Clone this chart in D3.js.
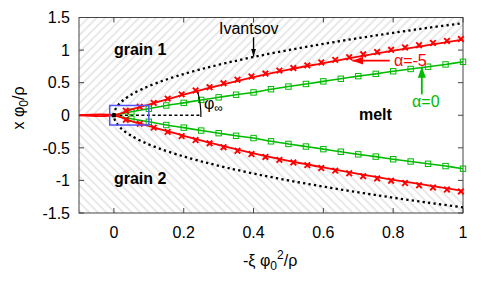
<!DOCTYPE html>
<html>
<head>
<meta charset="utf-8">
<script src="https://d3js.org/d3.v7.min.js"></script>
<style>
  body { margin: 0; background: #fff; }
  text { font-family: "Liberation Sans", Arial, sans-serif; font-size: 16px; fill: #000; }
</style>
</head>
<body>
<svg id="chart" width="491" height="294"></svg>
<script>
  // values
  const xTicks = [0, 0.2, 0.4, 0.6, 0.8, 1];
  const yTicks = [-1.5, -1, -0.5, 0, 0.5, 1, 1.5];

  const ivantsovX = [0, 0.005, 0.02, 0.045, 0.08, 0.125, 0.18, 0.245, 0.32, 0.405, 0.5, 0.6, 0.7, 0.8, 0.9, 1.0];
  const ivantsovY = [0, 0.1, 0.2, 0.3, 0.4, 0.5, 0.6, 0.7, 0.8, 0.9, 1.0, 1.095, 1.183, 1.265, 1.342, 1.414];

  const redLineX = [-0.1, 0, 0.05, 0.1, 0.15, 0.2, 0.3, 0.4, 0.5, 0.6, 0.7, 0.8, 0.9, 1.0];
  const redLineY = [0, 0, 0.09, 0.165, 0.24, 0.315, 0.455, 0.585, 0.70, 0.80, 0.90, 0.99, 1.075, 1.16];

  const redMarkX = [0.034, 0.074, 0.114, 0.154, 0.194, 0.234, 0.274, 0.314, 0.354, 0.394, 0.434, 0.474, 0.514,
                    0.554, 0.594, 0.634, 0.674, 0.714, 0.754, 0.794, 0.834, 0.874, 0.914, 0.954, 0.994];
  const redMarkY = [0.07, 0.13, 0.19, 0.255, 0.32, 0.38, 0.43, 0.49, 0.545, 0.595, 0.64, 0.685, 0.725,
                    0.765, 0.81, 0.85, 0.89, 0.935, 0.97, 1.005, 1.04, 1.075, 1.11, 1.14, 1.17];

  const greenX = [0, 0.05, 0.1, 0.15, 0.2, 0.25, 0.3, 0.35, 0.4, 0.45, 0.5, 0.55, 0.6, 0.65, 0.7, 0.75, 0.8, 0.85, 0.9, 0.95, 1.0];
  const greenY = [0, 0.055, 0.10, 0.15, 0.19, 0.235, 0.275, 0.315, 0.35, 0.40, 0.44, 0.48, 0.52, 0.56, 0.60, 0.635, 0.675, 0.71, 0.745, 0.78, 0.82];

  const svg = d3.select("#chart");
  const x = d3.scaleLinear().domain([-0.1, 1]).range([79, 463]);
  const y = d3.scaleLinear().domain([-1.5, 1.5]).range([213, 17.5]);

  const red = "#ff0000", green = "#00bb00", frame = "#444";

  const defs = svg.append("defs");
  function hatch(id, angle) {
    defs.append("pattern")
        .attr("id", id)
        .attr("patternUnits", "userSpaceOnUse")
        .attr("width", 6).attr("height", 6)
        .attr("patternTransform", `rotate(${angle})`)
      .append("line")
        .attr("x1", 3).attr("y1", 0).attr("x2", 3).attr("y2", 6)
        .attr("stroke", "#c6c6c6").attr("stroke-width", 0.8);
  }
  hatch("hatchUp", 45);
  hatch("hatchDown", -45);

  function arrowHead(id, color, len, wid) {
    defs.append("marker")
        .attr("id", id)
        .attr("markerUnits", "userSpaceOnUse")
        .attr("viewBox", `0 ${-wid / 2} ${len} ${wid}`)
        .attr("refX", len).attr("refY", 0)
        .attr("markerWidth", len).attr("markerHeight", wid)
        .attr("orient", "auto")
      .append("path")
        .attr("d", `M0,${-wid / 2} L${len},0 L0,${wid / 2} Z`)
        .attr("fill", color);
  }
  arrowHead("headBlack", "#000", 8, 5);
  arrowHead("headRed", red, 11, 8);
  arrowHead("headGreen", green, 11, 8);

  // hatched grains outside the red boundary
  const redPts = redLineX.map((v, i) => [v, redLineY[i]]);
  svg.append("path")
      .attr("d", d3.area().x(d => x(d[0])).y0(d => y(d[1])).y1(y(1.5))(redPts))
      .attr("fill", "url(#hatchUp)");
  svg.append("path")
      .attr("d", d3.area().x(d => x(d[0])).y0(d => y(-d[1])).y1(y(-1.5))(redPts))
      .attr("fill", "url(#hatchDown)");

  // frame + inward ticks
  svg.append("rect")
      .attr("x", x(-0.1)).attr("y", y(1.5))
      .attr("width", x(1) - x(-0.1)).attr("height", y(-1.5) - y(1.5))
      .attr("fill", "none").attr("stroke", frame).attr("stroke-width", 1);
  const tl = 5;
  xTicks.forEach(t => {
    svg.append("line").attr("x1", x(t)).attr("x2", x(t)).attr("y1", y(-1.5)).attr("y2", y(-1.5) - tl)
        .attr("stroke", frame);
    svg.append("line").attr("x1", x(t)).attr("x2", x(t)).attr("y1", y(1.5)).attr("y2", y(1.5) + tl)
        .attr("stroke", frame);
    svg.append("text").attr("x", x(t)).attr("y", 237.5).attr("text-anchor", "middle").text(t);
  });
  yTicks.forEach(t => {
    svg.append("line").attr("x1", x(-0.1)).attr("x2", x(-0.1) + tl).attr("y1", y(t)).attr("y2", y(t))
        .attr("stroke", frame);
    svg.append("line").attr("x1", x(1)).attr("x2", x(1) - tl).attr("y1", y(t)).attr("y2", y(t))
        .attr("stroke", frame);
    svg.append("text").attr("x", 70).attr("y", y(t) + 5.7).attr("text-anchor", "end").text(t);
  });

  const line = d3.line().x(d => x(d[0])).y(d => y(d[1])).curve(d3.curveCatmullRom);

  // Ivantsov parabola (dotted)
  const ivPts = ivantsovX.map((v, i) => [v, -ivantsovY[i]]).reverse()
      .concat(ivantsovX.slice(1).map((v, i) => [v, ivantsovY[i + 1]]));
  svg.append("path")
      .attr("d", line(ivPts))
      .attr("fill", "none").attr("stroke", "#000").attr("stroke-width", 2.3)
      .attr("stroke-dasharray", "2.3,3.2");

  // dashed symmetry axis
  svg.append("line")
      .attr("x1", x(0)).attr("x2", x(0.25)).attr("y1", y(0)).attr("y2", y(0))
      .attr("stroke", "#000").attr("stroke-width", 1.4).attr("stroke-dasharray", "3,2.5");

  // green (alpha = 0)
  [1, -1].forEach(s => {
    svg.append("path")
        .attr("d", line(greenX.map((v, i) => [v, s * greenY[i]])))
        .attr("fill", "none").attr("stroke", green).attr("stroke-width", 1.6);
    svg.selectAll(null).data(greenX.slice(1).map((v, i) => [v, s * greenY[i + 1]]))
      .enter().append("rect")
        .attr("x", d => x(d[0]) - 2.7).attr("y", d => y(d[1]) - 2.7)
        .attr("width", 5.4).attr("height", 5.4)
        .attr("fill", "none").attr("stroke", green).attr("stroke-width", 1);
  });

  // red (alpha = -5)
  [1, -1].forEach(s => {
    svg.append("path")
        .attr("d", line(redPts.map(d => [d[0], s * d[1]])))
        .attr("fill", "none").attr("stroke", red).attr("stroke-width", 1.8);
    svg.selectAll(null).data(redMarkX.map((v, i) => [v, s * redMarkY[i]]))
      .enter().append("path")
        .attr("d", d => {
          const cx = x(d[0]), cy = y(d[1]), r = 2.8;
          return `M${cx - r},${cy - r} L${cx + r},${cy + r} M${cx - r},${cy + r} L${cx + r},${cy - r}`;
        })
        .attr("stroke", red).attr("stroke-width", 1.9);
  });

  // tip point
  svg.append("rect")
      .attr("x", x(0) - 2).attr("y", y(0) - 2).attr("width", 4).attr("height", 4).attr("fill", "#000");

  // zoom box
  svg.append("rect")
      .attr("x", x(-0.012)).attr("y", y(0.15))
      .attr("width", x(0.1) - x(-0.012)).attr("height", y(-0.15) - y(0.15))
      .attr("fill", "none").attr("stroke", "#5555ff").attr("stroke-width", 1.5);

  // phi_inf angle arc
  const arc = d3.path();
  arc.arc(x(0), y(0), 87, -0.27, 0.02);
  svg.append("path").attr("d", arc.toString())
      .attr("fill", "none").attr("stroke", "#000").attr("stroke-width", 1.2);
  const phi = svg.append("text").attr("x", x(0.258)).attr("y", y(0.095));
  phi.append("tspan").text("φ");
  phi.append("tspan").attr("dy", 3).style("font-size", "12px").text("∞");

  // arrows
  function arrow(x1, y1, x2, y2, color, head, w) {
    svg.append("line")
        .attr("x1", x(x1)).attr("y1", y(y1)).attr("x2", x(x2)).attr("y2", y(y2))
        .attr("stroke", color).attr("stroke-width", w)
        .attr("marker-end", `url(#${head})`);
  }
  arrow(0.4, 1.196, 0.4, 0.9, "#000", "headBlack", 1.3);
  arrow(0.79, 0.837, 0.683, 0.837, red, "headRed", 1.8);
  arrow(0.882, 0.32, 0.882, 0.745, green, "headGreen", 1.8);

  // annotations
  const bold = (t, xv, yv) => svg.append("text").attr("x", x(xv)).attr("y", y(yv))
      .style("font-weight", "bold").text(t);
  bold("grain 1", 0, 0.93);
  bold("grain 2", 0, -1.06);
  bold("melt", 0.702, -0.07);
  svg.append("text").attr("x", x(0.301)).attr("y", y(1.24)).text("Ivantsov");
  svg.append("text").attr("x", x(0.802)).attr("y", y(0.755)).style("fill", red).text("α=-5");
  svg.append("text").attr("x", x(0.854)).attr("y", y(0.127)).style("fill", green).text("α=0");

  // axis labels
  const xl = svg.append("text").attr("x", 243).attr("y", 266);
  xl.append("tspan").text("-ξ φ");
  xl.append("tspan").attr("dy", 4).style("font-size", "12px").text("0");
  xl.append("tspan").attr("dy", -11).style("font-size", "12px").text("2");
  xl.append("tspan").attr("dy", 7).text("/ρ");

  const yl = svg.append("text").attr("transform", "translate(24,108) rotate(-90)").attr("text-anchor", "middle");
  yl.append("tspan").text("x φ");
  yl.append("tspan").attr("dy", 4).style("font-size", "12px").text("0");
  yl.append("tspan").attr("dy", -4).text("/ρ");
</script>
</body>
</html>
